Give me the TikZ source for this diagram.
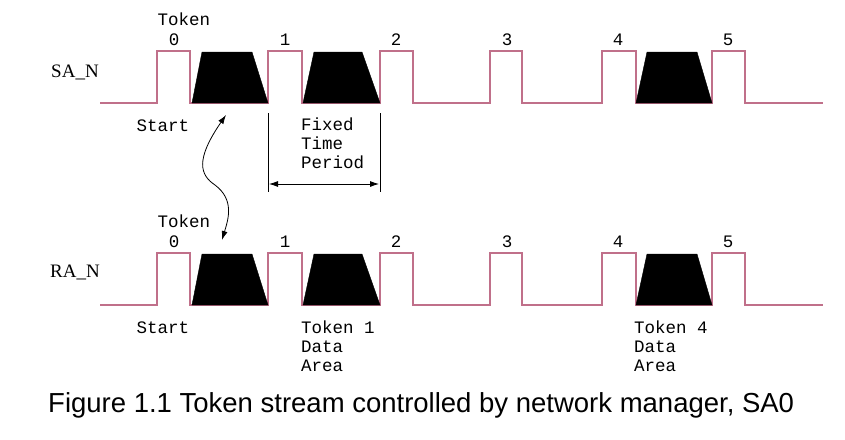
\documentclass[tikz,border=0pt]{standalone}
\usepackage{fontspec}
\setmainfont{Liberation Serif}
\newfontfamily\mono{Liberation Mono}
\newfontfamily\arial{Liberation Sans}
\usetikzlibrary{arrows.meta}
\definecolor{sig}{HTML}{C0708A}
\tikzset{wave/.style={draw=sig,line width=1.1pt},
 blk/.style={fill=black,draw=black},
 lbl/.style={font=\mono\fontsize{17.5}{19}\selectfont,inner sep=0pt},
 arr/.style={-{Latex[length=9pt,width=6pt]},line width=0.8pt}}
\begin{document}
\begin{tikzpicture}[x=1pt,y=-1pt]
\useasboundingbox (0,0) rectangle (845,439);
\foreach \o/\n in {0/s,202/r}{
 \begin{scope}[yshift=-\o pt]
 \draw[wave] (100,103) -- (157,103) -- (157,51) -- (190,51) -- (190,103) -- (268,103) -- (268,51) -- (302,51) -- (302,103) -- (380,103) -- (380,51) -- (413,51) -- (413,103) -- (490,103) -- (490,51) -- (522,51) -- (522,103) -- (602,103) -- (602,51) -- (636,51) -- (636,103) -- (712,103) -- (712,51) -- (745,51) -- (745,103) -- (823,103);
 \fill[blk] (192,103) -- (202,52) -- (252,52) -- (268,103) -- cycle;
 \fill[blk] (303,103) -- (314,52) -- (362,52) -- (380,103) -- cycle;
 \fill[blk] (636,103) -- (647,52) -- (697,52) -- (712,103) -- cycle;
 \node[lbl] (\n0) at (174,40) {0};
 \node[lbl] (\n1) at (285,40) {1};
 \node[lbl] (\n2) at (396,40) {2};
 \node[lbl] (\n3) at (507,40) {3};
 \node[lbl] (\n4) at (618,40) {4};
 \node[lbl] (\n5) at (728,40) {5};
 \node[lbl] (\n t) at (184,19) {Token};
 \node[lbl] (\n st) at (163,126) {Start};
 \end{scope}}
\node[font=\fontsize{19}{21}\selectfont] (sa) at (75,72) {SA\_N};
\node[font=\fontsize{19}{21}\selectfont] (ra) at (75,272) {RA\_N};
\node[lbl,align=left,anchor=north west] (ftp) at (301,118) {Fixed\\Time\\Period};
\node[lbl,align=left,anchor=north west] (t1) at (301,321) {Token 1\\Data\\Area};
\node[lbl,align=left,anchor=north west] (t4) at (634,321) {Token 4\\Data\\Area};
\coordinate (v1a) at (268,113); \coordinate (v1b) at (268,192);
\coordinate (v2a) at (380,113); \coordinate (v2b) at (380,192);
\draw[line width=0.8pt] (v1a) -- (v1b) (v2a) -- (v2b);
\coordinate (h1) at (269,184); \coordinate (h2) at (379,184);
\draw[line width=0.8pt,{Latex[length=9pt,width=6pt]}-{Latex[length=9pt,width=6pt]}] (h1) -- (h2);
\coordinate (wa) at (226,115); \coordinate (wb) at (222,240);
\draw[line width=0.8pt,{Latex[length=9pt,width=6pt]}-{Latex[length=9pt,width=6pt]}] (wa) .. controls (195,160) and (200,175) .. (215,185) .. controls (235,200) and (228,220) .. (wb);
\node[font=\arial\fontsize{27.5}{30}\selectfont,anchor=west,inner sep=0pt] (cap) at (48,405) {Figure 1.1 Token stream controlled by network manager, SA0};
\end{tikzpicture}
\end{document}
